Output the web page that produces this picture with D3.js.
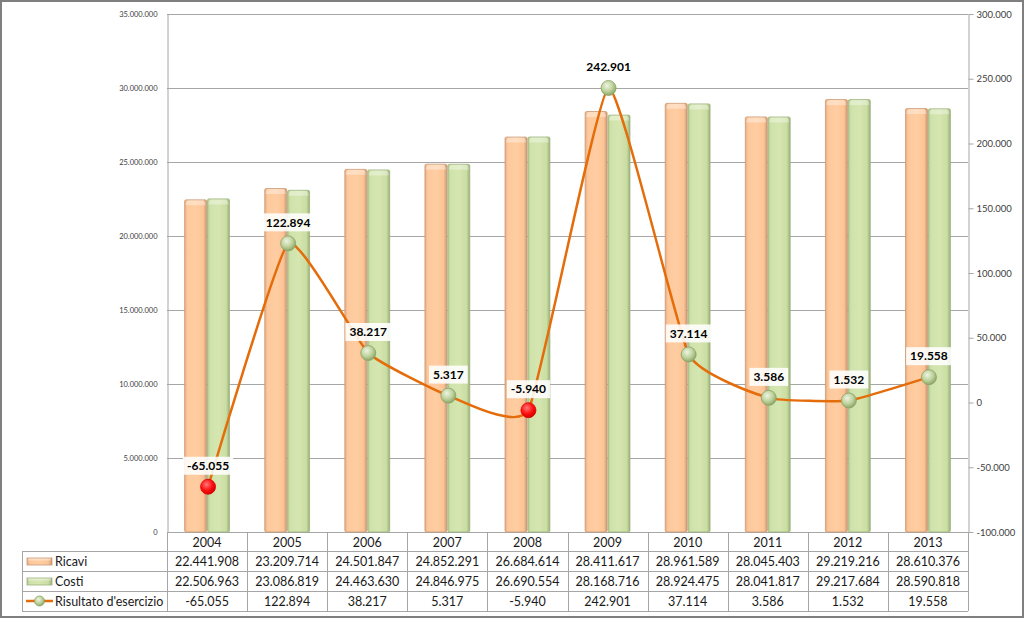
<!DOCTYPE html>
<html>
<head>
<meta charset="utf-8">
<script src="https://cdn.jsdelivr.net/npm/d3@7"></script>
<style>
  html, body { margin: 0; padding: 0; background: #fff; }
  svg { display: block; font-family: Lato, "Open Sans", sans-serif; }
</style>
</head>
<body>
<svg id="chart" width="1024" height="619"></svg>
<script>
const years = ["2004","2005","2006","2007","2008","2009","2010","2011","2012","2013"];
const ricavi = [22441908, 23209714, 24501847, 24852291, 26684614, 28411617, 28961589, 28045403, 29219216, 28610376];
const costi = [22506963, 23086819, 24463630, 24846975, 26690554, 28168716, 28924475, 28041817, 29217684, 28590818];
const risultato = [-65055, 122894, 38217, 5317, -5940, 242901, 37114, 3586, 1532, 19558];
const leftTicks = [0, 5000000, 10000000, 15000000, 20000000, 25000000, 30000000, 35000000];
const rightTicks = [-100000, -50000, 0, 50000, 100000, 150000, 200000, 250000, 300000];
const seriesNames = ["Ricavi", "Costi", "Risultato d'esercizio"];

const locale = d3.formatLocale({decimal: ",", thousands: ".", grouping: [3], currency: ["€", ""], minus: "-"});
const fmt = locale.format(",d");

const svg = d3.select("#chart");
const W = 1024, H = 619;
const plot = {left: 167, right: 968, top: 14, bottom: 532};
const tableLeft = 22;
const rowH = 20;
const rowTops = [551, 571, 591];
const tableBottom = 611;

// outer border
svg.append("rect").attr("x", 1).attr("y", 1).attr("width", W - 2).attr("height", H - 3)
  .attr("fill", "#fff").attr("stroke", "#7f7f7f").attr("stroke-width", 2);

const defs = svg.append("defs");
function hGrad(id, stops) {
  const g = defs.append("linearGradient").attr("id", id).attr("x1", "0%").attr("x2", "100%").attr("y1", "0%").attr("y2", "0%");
  stops.forEach(s => g.append("stop").attr("offset", s[0]).attr("stop-color", s[1]));
}
hGrad("gR", [["0%", "#E6AA7F"], ["12%", "#FDC89C"], ["50%", "#FFCDA2"], ["85%", "#FCC496"], ["100%", "#CC966F"]]);
hGrad("gC", [["0%", "#B0C78B"], ["12%", "#D0E2AB"], ["50%", "#D5E6B0"], ["85%", "#CADDA2"], ["100%", "#9AAF7A"]]);
function rGrad(id, c0, c1, c2) {
  const g = defs.append("radialGradient").attr("id", id).attr("cx", "40%").attr("cy", "35%").attr("r", "65%");
  g.append("stop").attr("offset", "0%").attr("stop-color", c0);
  g.append("stop").attr("offset", "60%").attr("stop-color", c1);
  g.append("stop").attr("offset", "100%").attr("stop-color", c2);
}
rGrad("mG", "#EEF4E2", "#BCD19A", "#8EA66A");
rGrad("mRed", "#FF7A7A", "#FF1010", "#D00000");

const x = d3.scaleBand().domain(years).range([plot.left, plot.right]).paddingInner(0).paddingOuter(0);
const bw = x.bandwidth();
const xs = d3.scaleBand().domain(["Ricavi", "Costi"]).range([0, bw]).paddingInner(0.04).paddingOuter(0.77);
const yL = d3.scaleLinear().domain([0, 35000000]).range([plot.bottom, plot.top]);
const yR = d3.scaleLinear().domain([-100000, 300000]).range([plot.bottom, plot.top]);

// gridlines
svg.append("g").selectAll("line").data(leftTicks).join("line")
  .attr("x1", plot.left).attr("x2", plot.right)
  .attr("y1", d => Math.round(yL(d)) + 0.5).attr("y2", d => Math.round(yL(d)) + 0.5)
  .attr("stroke", "#A6A6A6").attr("stroke-width", 1);

// left axis
const axL = svg.append("g").attr("transform", `translate(${plot.left + 0.5},0)`)
  .call(d3.axisLeft(yL).tickValues(leftTicks).tickFormat(fmt).tickSize(0).tickPadding(10));
axL.select(".domain").attr("stroke", "#A6A6A6");
axL.selectAll("text").attr("font-size", 7.5).attr("fill", "#404040").attr("font-family", "Lato, sans-serif");

// right axis
const axR = svg.append("g").attr("transform", `translate(${plot.right + 0.5},0)`)
  .call(d3.axisRight(yR).tickValues(rightTicks).tickFormat(fmt).tickSize(5).tickSizeOuter(0).tickPadding(3));
axR.select(".domain").attr("stroke", "#A6A6A6");
axR.selectAll(".tick line").attr("stroke", "#A6A6A6");
axR.selectAll("text").attr("font-size", 9.5).attr("fill", "#404040").attr("font-family", "Lato, sans-serif");

// bars
const barData = [];
years.forEach((yr, i) => {
  barData.push({year: yr, key: "Ricavi", v: ricavi[i]});
  barData.push({year: yr, key: "Costi", v: costi[i]});
});
const bars = svg.append("g");
bars.selectAll("rect").data(barData).join("rect")
  .attr("x", d => x(d.year) + xs(d.key))
  .attr("y", d => yL(d.v))
  .attr("width", xs.bandwidth())
  .attr("height", d => yL(0) - yL(d.v))
  .attr("rx", 1.5)
  .attr("fill", d => d.key === "Ricavi" ? "url(#gR)" : "url(#gC)")
  .attr("stroke", d => d.key === "Ricavi" ? "#C99A78" : "#9DB27E")
  .attr("stroke-width", 0.8);
// top bevel highlight
bars.selectAll("path.cap").data(barData).join("path").attr("class", "cap")
  .attr("d", d => {
    const x0 = x(d.year) + xs(d.key) + 1, w = xs.bandwidth() - 2, y0 = yL(d.v) + 0.5;
    return `M${x0},${y0 + 5} Q${x0},${y0} ${x0 + 4},${y0} L${x0 + w - 4},${y0} Q${x0 + w},${y0} ${x0 + w},${y0 + 5} Z`;
  })
  .attr("fill", "#fff").attr("opacity", 0.35);

// line
const pts = years.map((yr, i) => [x(yr) + bw / 2 + 1, yR(risultato[i])]);
svg.append("path").datum(pts)
  .attr("d", d3.line().curve(d3.curveCardinal.tension(0.6)))
  .attr("fill", "none").attr("stroke", "#E46C0A").attr("stroke-width", 2.5);

// markers
svg.append("g").selectAll("circle").data(risultato).join("circle")
  .attr("cx", (d, i) => pts[i][0]).attr("cy", (d, i) => pts[i][1]).attr("r", 7.5)
  .attr("fill", d => d < 0 ? "url(#mRed)" : "url(#mG)")
  .attr("stroke", d => d < 0 ? "#E00000" : "#8AA266").attr("stroke-width", 0.8);

// data labels
const lab = svg.append("g").selectAll("g").data(risultato).join("g")
  .attr("transform", (d, i) => `translate(${pts[i][0]},${pts[i][1] - 21})`);
lab.append("text").text(d => fmt(d))
  .attr("text-anchor", "middle").attr("dy", "0.35em")
  .attr("font-size", 12).attr("font-weight", "bold").attr("fill", "#000").attr("font-family", "Lato, sans-serif");
lab.each(function() {
  const g = d3.select(this);
  const bb = g.select("text").node().getBBox();
  g.insert("rect", "text").attr("x", bb.x - 4).attr("y", -9).attr("width", bb.width + 8).attr("height", 18)
    .attr("fill", "#fff").attr("opacity", 0.88);
});

// table
const tbl = svg.append("g");
const gridC = "#A6A6A6";
rowTops.concat([tableBottom]).forEach(yy => {
  tbl.append("line").attr("x1", tableLeft).attr("x2", plot.right).attr("y1", yy + 0.5).attr("y2", yy + 0.5).attr("stroke", gridC);
});
tbl.append("line").attr("x1", tableLeft + 0.5).attr("x2", tableLeft + 0.5).attr("y1", rowTops[0]).attr("y2", tableBottom).attr("stroke", gridC);
const colEdges = years.map(yr => x(yr)).concat([plot.right]);
tbl.selectAll("line.v").data(colEdges).join("line").attr("class", "v")
  .attr("x1", d => Math.round(d) + 0.5).attr("x2", d => Math.round(d) + 0.5)
  .attr("y1", plot.bottom).attr("y2", tableBottom).attr("stroke", gridC);

const tFont = 12.5;
tbl.selectAll("text.yr").data(years).join("text").attr("class", "yr")
  .attr("x", d => x(d) + bw / 2).attr("y", (plot.bottom + rowTops[0]) / 2 + 1).attr("dy", "0.35em")
  .attr("text-anchor", "middle").attr("font-size", tFont).attr("fill", "#1a1a1a").text(d => d);

const rows = [ricavi, costi, risultato];
rows.forEach((arr, r) => {
  tbl.selectAll(`text.r${r}`).data(arr).join("text").attr("class", `r${r}`)
    .attr("x", (d, i) => x(years[i]) + bw / 2).attr("y", rowTops[r] + rowH / 2 + 0.5).attr("dy", "0.35em")
    .attr("text-anchor", "middle").attr("font-size", tFont).attr("fill", "#1a1a1a").text(d => fmt(d));
  tbl.append("text").attr("x", 55).attr("y", rowTops[r] + rowH / 2 + 0.5).attr("dy", "0.35em")
    .attr("font-size", tFont).attr("fill", "#1a1a1a").text(seriesNames[r]);
});

// legend keys
[["url(#gR)", "#C99A78"], ["url(#gC)", "#9DB27E"]].forEach((k, r) => {
  const yc = rowTops[r] + rowH / 2;
  tbl.append("rect").attr("x", 27).attr("y", yc - 3).attr("width", 25).attr("height", 7)
    .attr("fill", k[0]).attr("stroke", k[1]).attr("stroke-width", 0.8);
  tbl.append("rect").attr("x", 28).attr("y", yc - 2.5).attr("width", 23).attr("height", 2)
    .attr("fill", "#fff").attr("opacity", 0.4);
});
{
  const yc = rowTops[2] + rowH / 2;
  tbl.append("line").attr("x1", 26).attr("x2", 53).attr("y1", yc).attr("y2", yc).attr("stroke", "#E46C0A").attr("stroke-width", 2.5);
  tbl.append("circle").attr("cx", 39.5).attr("cy", yc).attr("r", 5).attr("fill", "url(#mG)").attr("stroke", "#8AA266").attr("stroke-width", 0.8);
}
</script>
</body>
</html>
